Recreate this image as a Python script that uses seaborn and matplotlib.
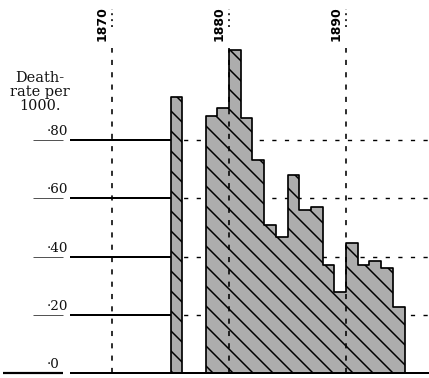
import numpy as np
import pandas as pd
import matplotlib
matplotlib.use('Agg')
import matplotlib.pyplot as plt
import seaborn as sns

# ---------------- data ----------------
early_years = [1875]
early_rates = [0.948]
years = [1878, 1879, 1880, 1881, 1882, 1883, 1884, 1885, 1886,
         1887, 1888, 1889, 1890, 1891, 1892, 1893, 1894]
rates = [0.882, 0.910, 1.109, 0.876, 0.731, 0.508, 0.467, 0.680, 0.560,
         0.570, 0.371, 0.278, 0.446, 0.371, 0.385, 0.361, 0.227]
tick_values = [0.0, 0.2, 0.4, 0.6, 0.8]
tick_labels = ['·0', '·20', '·40', '·60', '·80']
decade_years = [1870, 1880, 1890]
decade_labels = ['1870', '1880', '1890']
y_title = 'Death-\nrate per\n1000.'

# ---------------- layout ----------------
DPI = 120
W, H = 429, 378
PXY = 11.7          # pixels per year
X1880 = 229         # pixel column of 1880
Y0 = 373            # pixel row of zero
PYV = 291.25        # pixels per unit rate


def xd(px):
    return 1880 + (px - X1880) / PXY


def yd(py):
    return (Y0 - py) / PYV


def pt(px):
    return px * 72.0 / DPI


sns.set_style('white')
plt.rcParams['hatch.linewidth'] = pt(1.5)

fig = plt.figure(figsize=(W / DPI, H / DPI), dpi=DPI)
ax = fig.add_axes([0, 0, 1, 1])

gray = '#adadad'

# bars (stepped, hatched)
for yrs, vals in [(early_years, early_rates), (years, rates)]:
    df = pd.DataFrame({'year': yrs, 'rate': vals})
    edges = [float(e) for e in range(yrs[0], yrs[-1] + 2)]
    sns.histplot(data=df, x='year', weights='rate', bins=edges,
                 element='step', fill=True,
                 color=gray, edgecolor='black', linewidth=pt(1.7),
                 hatch='\\\\', alpha=1, ax=ax, zorder=3, legend=False)

ax.set_xlim(xd(0), xd(W))
ax.set_ylim(yd(H), yd(0))
ax.set_axis_off()

x_left_solid = xd(70)
x_bar0 = early_years[0]
x_right = xd(W)

# horizontal grid lines
for v, lab in zip(tick_values, tick_labels):
    if v == 0:
        ax.plot([xd(3), xd(63)], [v, v], color='black', lw=pt(2.2),
                solid_capstyle='butt', zorder=4)
        ax.plot([x_left_solid, x_right], [v, v], color='black', lw=pt(2.0),
                solid_capstyle='butt', zorder=4)
        ax.text(xd(60), v + 5 / PYV, lab, ha='right', va='baseline',
                family='DejaVu Serif', fontsize=pt(13.5), color='#111111')
    else:
        ax.plot([xd(33), xd(63)], [v, v], color='#555555', lw=pt(1.0),
                solid_capstyle='butt', zorder=4)
        ax.plot([x_left_solid, x_bar0], [v, v], color='black', lw=pt(2.0),
                solid_capstyle='butt', zorder=4)
        ax.plot([x_bar0, x_right], [v, v], color='black', lw=pt(1.4),
                linestyle=(0, (3, 6)), zorder=1)
        ax.text(xd(68), v + 5 / PYV, lab, ha='right', va='baseline',
                family='DejaVu Serif', fontsize=pt(13.5), color='#111111')

# vertical decade lines
for yr, lab in zip(decade_years, decade_labels):
    ax.plot([yr, yr], [0, yd(48)], color='black', lw=pt(1.6),
            linestyle=(0, (3.2, 4.5)), zorder=5)
    ax.plot([yr, yr], [yd(27), yd(9)], color='black', lw=pt(1.6),
            linestyle=(0, (1.2, 2.5)), zorder=5)
    ax.text(yr - 10 / PXY, yd(24), lab, rotation=90, ha='center', va='center',
            family='DejaVu Sans', fontweight='bold', fontsize=pt(12.5),
            color='black')

# axis title
ax.text(xd(40), yd(92), y_title, ha='center', va='center',
        family='DejaVu Serif', fontsize=pt(14.5), linespacing=1.02,
        color='#111111')

fig.savefig('out.png', dpi=DPI, facecolor='white')
